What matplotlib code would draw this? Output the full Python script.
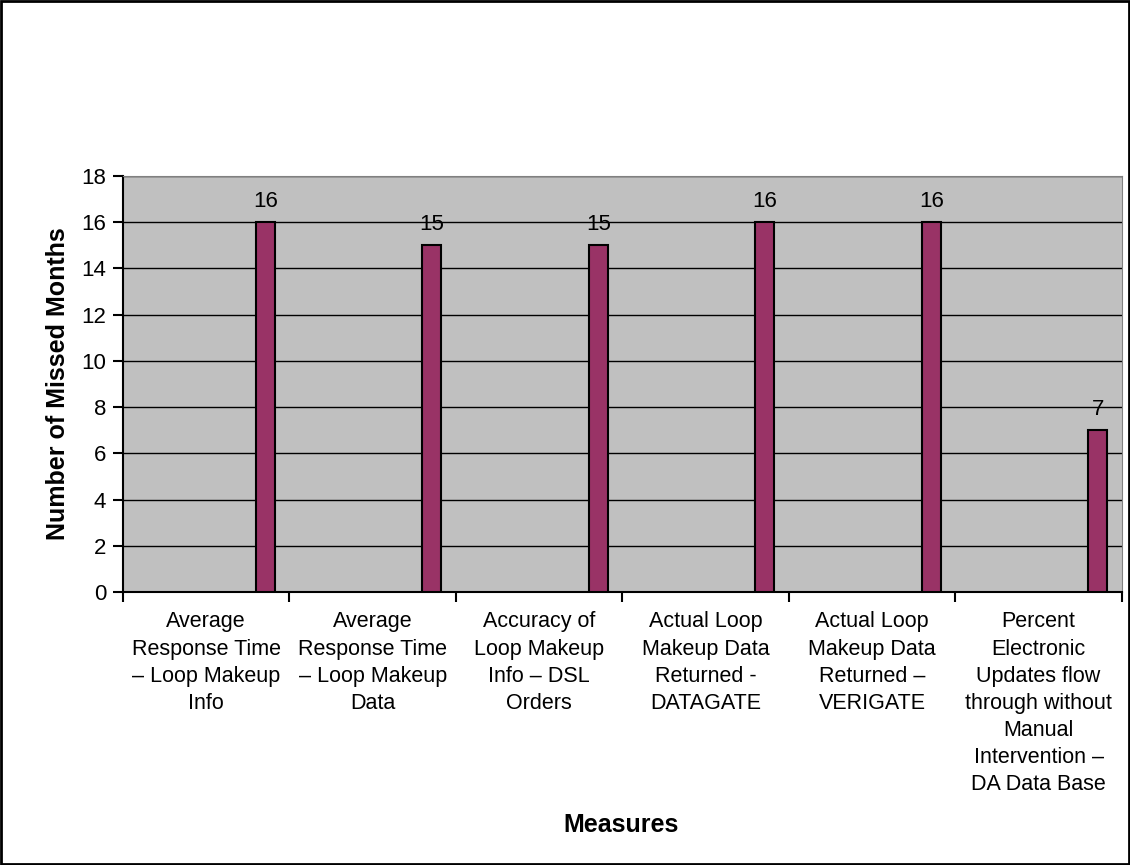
import numpy as np
import matplotlib.pyplot as plt

plt.rcParams['font.family'] = ['Liberation Sans', 'DejaVu Sans']

categories = [
    'Average\nResponse Time\n\u2013 Loop Makeup\nInfo',
    'Average\nResponse Time\n\u2013 Loop Makeup\nData',
    'Accuracy of\nLoop Makeup\nInfo \u2013 DSL\nOrders',
    'Actual Loop\nMakeup Data\nReturned -\nDATAGATE',
    'Actual Loop\nMakeup Data\nReturned \u2013\nVERIGATE',
    'Percent\nElectronic\nUpdates flow\nthrough without\nManual\nIntervention \u2013\nDA Data Base',
]
missed_months = [16, 15, 15, 16, 16, 7]

fig = plt.figure(figsize=(11.3, 8.65), dpi=100)
ax = fig.add_axes([0.1088, 0.3156, 0.884, 0.4809])
ax.set_facecolor('#C0C0C0')

n = len(categories)
x = np.arange(n) + 0.856
bars = ax.bar(x, missed_months, width=0.114, color='#993366', edgecolor='black', linewidth=1.5, zorder=3)
for xi, v in zip(x, missed_months):
    ax.text(xi, v + 0.45, str(v), ha='center', va='bottom', fontsize=16, zorder=4)

ax.set_xlim(0, n)
ax.set_ylim(0, 18)
ax.set_yticks(range(0, 19, 2))
ax.yaxis.grid(True, color='black', linewidth=1)
ax.set_axisbelow(True)

ax.set_xticks(np.arange(n + 1))
ax.set_xticklabels([])
ax.set_xticks(np.arange(n) + 0.5, minor=True)
ax.set_xticklabels(categories, minor=True, fontsize=15.5, linespacing=1.38, va='top')
ax.tick_params(axis='x', which='minor', length=0, pad=14)
ax.tick_params(axis='x', which='major', direction='out', length=7, width=1.5)
ax.tick_params(axis='y', direction='out', length=7, width=1.5, labelsize=16, pad=5)

for s in ['top', 'right']:
    ax.spines[s].set_color('#808080')
for s in ['left', 'bottom']:
    ax.spines[s].set_linewidth(1.5)

ax.set_ylabel('Number of Missed Months', fontsize=18, fontweight='bold', labelpad=8)
fig.text(0.5495, 0.046, 'Measures', ha='center', va='center', fontsize=18, fontweight='bold')

fig.patches.append(plt.Rectangle((0.001, 0.001), 0.998, 0.998, transform=fig.transFigure,
                                 fill=False, edgecolor='black', linewidth=2))

fig.savefig('out.png', dpi=100)
